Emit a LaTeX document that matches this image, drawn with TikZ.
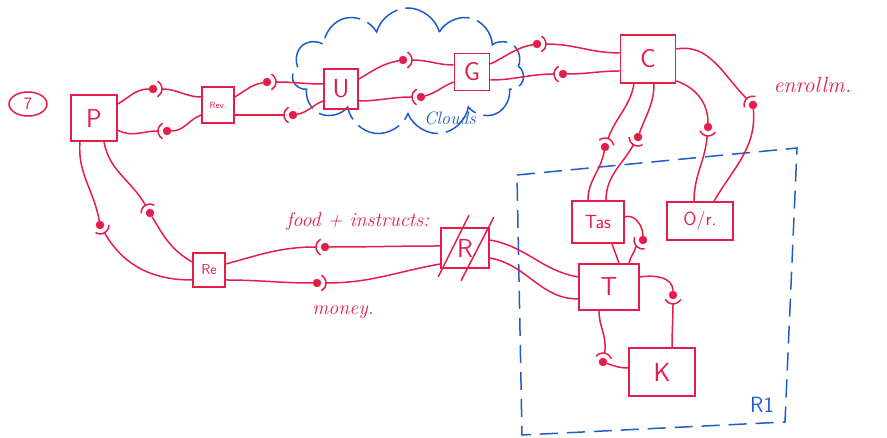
\documentclass[tikz,border=0pt]{standalone}
\usetikzlibrary{shapes.geometric,shapes.symbols,calc}
\definecolor{pen}{HTML}{E41E4C}
\definecolor{bpen}{HTML}{1E5CC8}
\tikzset{
 comp/.style={draw=pen, line width=1.6pt, text=pen, font=\sffamily\fontsize{26}{28}\selectfont, inner sep=1pt},
 wire/.style={draw=pen, line width=1.5pt},
 ball/.style={circle, fill=pen, draw=pen, inner sep=0pt, minimum size=8pt},
 lbl/.style={text=pen, font=\itshape\fontsize{20}{22}\selectfont},
 blbl/.style={text=bpen, font=\itshape\fontsize{18}{20}\selectfont},
 bline/.style={draw=bpen, line width=1.5pt},
}
% #1 ball, #2 direction, #3 socket coordinate name
\newcommand\sock[3]{%
 \coordinate (#3) at ($(#1)+(#2:9pt)$);
 \draw[wire] ($(#1)+(#2+60:9pt)$) arc[start angle=#2+60, end angle=#2-60, radius=9pt];}
\begin{document}
\begin{tikzpicture}[x=1pt,y=1pt]
\useasboundingbox (0,0) rectangle (887,438);
% regions
\node[cloud, bline, dash pattern=on 45pt off 8pt, cloud puffs=11, aspect=2, minimum width=232pt, minimum height=128pt] (cloud) at (408,366) {};
\node[blbl] (cloudlbl) at (450,320) {Clouds};
\draw[bline, dash pattern=on 18pt off 9pt] (517,263) -- (797,290) -- (785,16) -- (522,3) -- cycle;
\node[text=bpen, font=\sffamily\fontsize{22}{24}\selectfont] (r1) at (762,33) {R1};
% components
\node[draw=pen, ellipse, line width=1.5pt, text=pen, minimum width=38pt, minimum height=24pt, inner sep=0pt, font=\sffamily\LARGE] (seven) at (28,334) {7};
\node[comp, minimum width=46pt, minimum height=46pt] (P) at (94,320) {P};
\node[comp, minimum width=32pt, minimum height=36pt, font=\sffamily\small] (Rev) at (218,333) {Rev.};
\node[comp, minimum width=34pt, minimum height=40pt] (U) at (341,349) {U};
\node[comp, minimum width=35pt, minimum height=37pt] (G) at (472,366) {G};
\node[comp, minimum width=55pt, minimum height=48pt] (C) at (648,379) {C};
\node[comp, minimum width=52pt, minimum height=42pt, font=\sffamily\fontsize{19}{21}\selectfont] (Tas) at (598,216) {Tas};
\node[comp, minimum width=66pt, minimum height=38pt, font=\sffamily\fontsize{19}{21}\selectfont] (O) at (700,217) {O/r.};
\node[comp, minimum width=60pt, minimum height=46pt] (T) at (609,151) {T};
\node[comp, minimum width=66pt, minimum height=48pt] (K) at (662,66) {K};
\node[comp, minimum width=48pt, minimum height=40pt] (R) at (465,190) {R};
\draw[wire] ($(R.south west)+(-2,-8)$) -- ($(R.north)+(4,12)$);
\draw[wire] ($(R.south)+(-4,-12)$) -- ($(R.north east)+(4,10)$);
\node[comp, minimum width=32pt, minimum height=34pt, font=\sffamily\Large] (Re) at (209,168) {Re};
% balls
\node[ball] (b1) at (153,349) {};
\node[ball] (b2) at (167,307) {};
\node[ball] (b3) at (267,356) {};
\node[ball] (b4) at (293,323) {};
\node[ball] (b5) at (403,378) {};
\node[ball] (b6) at (421,341) {};
\node[ball] (b7) at (537,394) {};
\node[ball] (b8) at (563,364) {};
\node[ball] (b9) at (605,291) {};
\node[ball] (b10) at (638,301) {};
\node[ball] (b11) at (708,311) {};
\node[ball] (b12) at (753,333) {};
\node[ball] (b13) at (643,198) {};
\node[ball] (b14) at (673,143) {};
\node[ball] (b15) at (603,76) {};
\node[ball] (b16) at (100,213) {};
\node[ball] (b17) at (150,225) {};
\node[ball] (b18) at (325,191) {};
\node[ball] (b19) at (317,155) {};
% sockets
\sock{b1}{0}{s1}
\sock{b2}{180}{s2}
\sock{b3}{0}{s3}
\sock{b4}{180}{s4}
\sock{b5}{0}{s5}
\sock{b6}{180}{s6}
\sock{b7}{0}{s7}
\sock{b8}{180}{s8}
\sock{b9}{70}{s9}
\sock{b10}{240}{s10}
\sock{b11}{265}{s11}
\sock{b12}{135}{s12}
\sock{b13}{220}{s13}
\sock{b14}{270}{s14}
\sock{b15}{80}{s15}
\sock{b16}{-60}{s16}
\sock{b17}{120}{s17}
\sock{b18}{180}{s18}
\sock{b19}{0}{s19}
% wires
\draw[wire] ([yshift=14pt]P.east) to[out=30,in=180] (b1);
\draw[wire] (s1) to[out=0,in=180] ([yshift=8pt]Rev.west);
\draw[wire] (s2) to[out=180,in=-30] ([yshift=-12pt]P.east);
\draw[wire] (b2) to[out=0,in=200] ([yshift=-10pt]Rev.west);
\draw[wire] ([yshift=8pt]Rev.east) to[out=30,in=190] (b3);
\draw[wire] (s3) to[out=0,in=180] ([yshift=5pt]U.west);
\draw[wire] (s4) to[out=180,in=0] ([yshift=-10pt]Rev.east);
\draw[wire] (b4) to[out=10,in=200] ([yshift=-12pt]U.west);
\draw[wire] ([yshift=10pt]U.east) to[out=30,in=190] (b5);
\draw[wire] (s5) to[out=0,in=180] ([yshift=7pt]G.west);
\draw[wire] (s6) to[out=180,in=0] ([yshift=-12pt]U.east);
\draw[wire] (b6) to[out=15,in=200] ([yshift=-10pt]G.west);
\draw[wire] ([yshift=8pt]G.east) to[out=25,in=190] (b7);
\draw[wire] (s7) to[out=0,in=180] ([yshift=6pt]C.west);
\draw[wire] (s8) to[out=180,in=0] ([yshift=-8pt]G.east);
\draw[wire] (b8) to[out=0,in=180] ([yshift=-12pt]C.west);
\draw[wire] ([xshift=-14pt]C.south) to[out=-100,in=70] (s9);
\draw[wire] (b9) to[out=-100,in=90] ([xshift=-10pt]Tas.north);
\draw[wire] ([xshift=6pt]C.south) to[out=-90,in=70] (b10);
\draw[wire] (s10) to[out=240,in=90] ([xshift=8pt]Tas.north);
\draw[wire] ([yshift=3pt]C.south east) to[out=-20,in=90] (b11);
\draw[wire] (s11) to[out=-95,in=90] ([xshift=-6pt]O.north);
\draw[wire] ([yshift=10pt]C.east) to[out=10,in=135] (s12);
\draw[wire] (b12) to[out=-85,in=60] ([xshift=14pt]O.north);
\draw[wire] ([yshift=5pt]Tas.east) to[out=20,in=90] (b13);
\draw[wire] (s13) to[out=-100,in=80] ([xshift=20pt]T.north);
\draw[wire] ([xshift=14pt]Tas.south) -- ([xshift=10pt]T.north);
\draw[wire] ([yshift=10pt]T.east) to[out=10,in=90] (b14);
\draw[wire] (s14) to[out=-90,in=90] ([xshift=10pt]K.north);
\draw[wire] ([xshift=-10pt]T.south) to[out=-90,in=80] (s15);
\draw[wire] (b15) to[out=-20,in=180] ([yshift=4pt]K.west);
\draw[wire] ([xshift=-14pt]P.south) to[out=-95,in=100] (b16);
\draw[wire] (s16) to[out=-60,in=180] ([yshift=-10pt]Re.west);
\draw[wire] ([xshift=10pt]P.south) to[out=-80,in=120] (s17);
\draw[wire] (b17) to[out=-60,in=150] ([yshift=8pt]Re.west);
\draw[wire] ([yshift=6pt]Re.east) to[out=15,in=180] (s18);
\draw[wire] (b18) to[out=0,in=180] ([yshift=2pt]R.west);
\draw[wire] ([yshift=-10pt]Re.east) to[out=0,in=180] (b19);
\draw[wire] (s19) to[out=0,in=190] ([yshift=-16pt]R.west);
\draw[wire] ([yshift=8pt]R.east) to[out=-10,in=170] ([yshift=10pt]T.west);
\draw[wire] ([yshift=-10pt]R.east) to[out=-10,in=180] ([yshift=-12pt]T.west);
% labels
\node[lbl] (food) at (358,216) {food + instructs:};
\node[lbl] (money) at (343,126) {money.};
\node[lbl, anchor=west, font=\itshape\fontsize{22}{24}\selectfont] (enr) at (770,353) {enrollm.};
\end{tikzpicture}
\end{document}
